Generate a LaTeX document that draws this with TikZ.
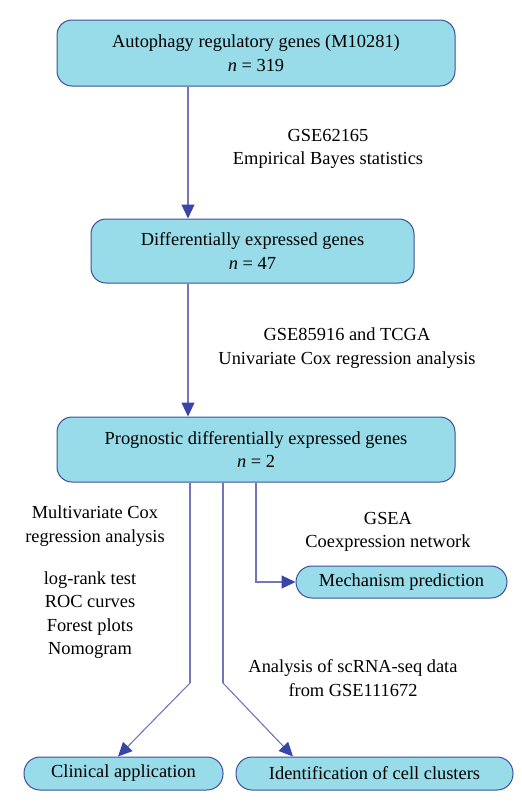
\documentclass[tikz,border=0pt]{standalone}
\usepackage{fontspec}
\setmainfont{Liberation Serif}
\usetikzlibrary{arrows.meta}
\definecolor{boxfill}{HTML}{97DCE8}
\definecolor{boxline}{HTML}{3E4E9E}
\definecolor{linkc}{HTML}{7474BC}
\definecolor{tipc}{HTML}{3A45A8}
\tikzset{
  bigbox/.style={draw=boxline, fill=boxfill, line width=1pt, rounded corners=15pt, align=center, inner sep=0pt},
  smallbox/.style={draw=boxline, fill=boxfill, line width=1pt, rounded corners=16pt, inner sep=0pt},
  link/.style={draw=linkc, line width=1.1pt, -{Triangle[length=14pt,width=13pt,fill=tipc,color=tipc]}},
  plain/.style={draw=linkc, line width=1.1pt},
  lbl/.style={align=center, inner sep=0pt},
}
\begin{document}
\begin{tikzpicture}[x=1pt,y=-1pt, font=\fontsize{18.4}{23.5}\selectfont]
\useasboundingbox (0,0) rectangle (522,807);
% boxes
\node[bigbox, minimum width=398pt, minimum height=66pt] (b1) at (256,53) {Autophagy regulatory genes (M10281)\\\textit{n} = 319};
\node[bigbox, minimum width=323pt, minimum height=64pt] (b2) at (252.5,251) {Differentially expressed genes\\\textit{n} = 47};
\node[bigbox, minimum width=398pt, minimum height=65pt] (b3) at (256,449.5) {Prognostic differentially expressed genes\\\textit{n} = 2};
\node[smallbox, minimum width=211pt, minimum height=32pt] (mp) at (401.5,582) {Mechanism prediction};
\node[smallbox, minimum width=199pt, minimum height=33pt] (ca) at (123.5,773.5) {Clinical application};
\node[smallbox, minimum width=277pt, minimum height=33pt] (ic) at (374.5,773.5) {Identification of cell clusters};
% labels
\node[lbl] (t1) at (328,149) {GSE62165\\Empirical Bayes statistics};
\node[lbl] (t2) at (347,348) {GSE85916 and TCGA\\Univariate Cox regression analysis};
\node[lbl] (t3) at (95,526) {Multivariate Cox\\regression analysis};
\node[lbl] (t4) at (90,615) {log-rank test\\ROC curves\\Forest plots\\Nomogram};
\node[lbl] (t5) at (388,532) {GSEA\\Coexpression network};
\node[lbl] (t6) at (353,678) {Analysis of scRNA-seq data\\from GSE111672};
% connectors
\coordinate (c1) at (190,683);
\coordinate (c2) at (223,683);
\draw[link] (b1.south -| 188,0) -- (b2.north -| 188,0);
\draw[link] (b2.south -| 188,0) -- (b3.north -| 188,0);
\draw[plain] (b3.south -| c1) -- (c1);
\draw[link] (c1) -- (ca.north -| 118,0);
\draw[plain] (b3.south -| c2) -- (c2);
\draw[link] (c2) -- (ic.north -| 293,0);
\draw[link, rounded corners=0pt] (b3.south -| 256,0) |- (mp.west);
\end{tikzpicture}
\end{document}
